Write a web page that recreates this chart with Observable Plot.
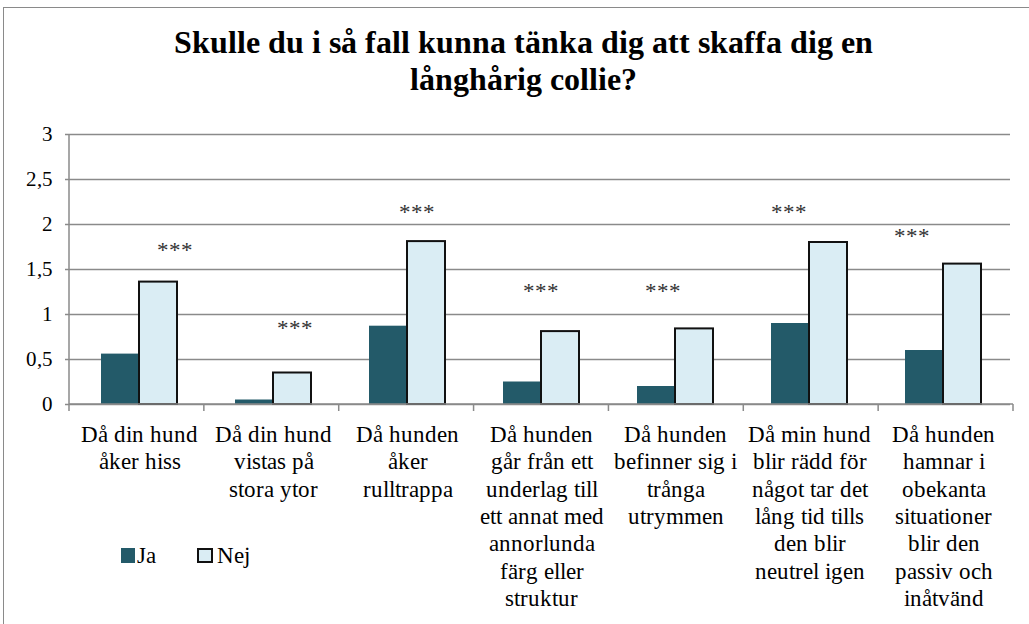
<!DOCTYPE html>
<html lang="en"><head><meta charset="utf-8">
<script src="https://cdn.jsdelivr.net/npm/d3@7"></script>
<script src="https://cdn.jsdelivr.net/npm/@observablehq/plot@0.6"></script>
<style>
@font-face { font-family: "TNRLocal"; src: local("Liberation Serif"), local("LiberationSerif"), local("Liberation Serif Regular"), local("LiberationSerif-Regular"); font-weight: 400; }
@font-face { font-family: "TNRLocal"; src: local("Liberation Serif Bold"), local("LiberationSerif-Bold"); font-weight: 700; }
</style>
</head>
<body style="margin:0;font-family:TNRLocal, 'Liberation Serif', serif">
<div id="wrap" style="position:relative;width:1029px;height:624px;overflow:hidden;color:#000;font-family:TNRLocal, 'Liberation Serif', serif">
<div style="position:absolute;left:3px;top:7px;width:1100px;height:700px;border:1.5px solid #8a8a8a;"></div>
<div id="title" style="position:absolute;left:10px;width:1026px;top:24px;text-align:center;font-weight:bold;font-size:32px;line-height:37px;">Skulle du i så fall kunna tänka dig att skaffa dig en<br>långhårig collie?</div>
<div id="chart" style="position:absolute;left:0;top:120px;"></div>
<div id="legend"></div>
</div>
<script>
const categories = [
  "Då din hund\nåker hiss",
  "Då din hund\nvistas på\nstora ytor",
  "Då hunden\nåker\nrulltrappa",
  "Då hunden\ngår från ett\nunderlag till\nett annat med\nannorlunda\nfärg eller\nstruktur",
  "Då hunden\nbefinner sig i\ntrånga\nutrymmen",
  "Då min hund\nblir rädd för\nnågot tar det\nlång tid tills\nden blir\nneutrel igen",
  "Då hunden\nhamnar i\nobekanta\nsituationer\nblir den\npassiv och\ninåtvänd"
];
const seriesNames = ["Ja", "Nej"];
const ja  = [0.56, 0.05, 0.87, 0.25, 0.20, 0.90, 0.60];
const nej = [1.36, 0.35, 1.81, 0.81, 0.84, 1.80, 1.56];
const starLabel = "***";
const starLevel = [1.71, 0.84, 2.13, 1.25, 1.25, 2.13, 1.87];
const yTicks = [0, 0.5, 1, 1.5, 2, 2.5, 3];

// styling (pixel nudges of the star annotations, as placed in the original)
const starDx = [16, 2, -10, -20, -32, -40, -51];
const colJa = "#235a69", colNej = "#daedf4", gridCol = "#8a8a8a";
const FONT = "TNRLocal, 'Liberation Serif', serif";

const rows = categories.flatMap((c, i) => [
  {category: c, series: "Ja", value: ja[i]},
  {category: c, series: "Nej", value: nej[i]}
]);

const starMarks = categories.map((c, i) =>
  Plot.text([{category: c, level: starLevel[i]}], {
    fx: "category", x: () => "Nej", y: "level", text: () => starLabel,
    dx: starDx[i], fontSize: 23, fill: "#333", lineAnchor: "middle", fontFamily: FONT
  })
);

const plot = Plot.plot({
  width: 1029, height: 504,
  marginLeft: 69, marginRight: 16, marginTop: 14, marginBottom: 220,
  style: {fontFamily: FONT, background: "transparent", overflow: "visible"},
  fx: {domain: categories, padding: 0, axis: null},
  x: {domain: seriesNames, paddingInner: 0, paddingOuter: 0.753, axis: null},
  y: {domain: [0, 3], axis: null},
  marks: [
    Plot.gridY({ticks: yTicks, stroke: gridCol, strokeOpacity: 1, strokeWidth: 1.5}),
    Plot.barY(rows.filter(d => d.series === "Ja"), {fx: "category", x: "series", y: "value", fill: colJa}),
    Plot.barY(rows.filter(d => d.series === "Nej"), {fx: "category", x: "series", y: "value", fill: colNej, stroke: "#111", strokeWidth: 2}),
    ...starMarks,
    Plot.axisY({ticks: yTicks, tickFormat: d => String(d).replace(".", ","), tickSize: 7, tickPadding: 13,
      fontSize: 21, stroke: gridCol, strokeWidth: 1.5, strokeOpacity: 1, fill: "#000", label: null, fontFamily: FONT}),
    Plot.axisFx({anchor: "bottom", tickSize: 0, tickPadding: 18, fontSize: 23, lineHeight: 1.19, fill: "#000", label: null, fontFamily: FONT})
  ]
});

// axis line on the left and category boundary ticks on the base line
const fxs = plot.scale("fx"), ys = plot.scale("y");
const yLin = d3.scaleLinear(ys.domain, ys.range);
const band = d3.scaleBand(fxs.domain, fxs.range).paddingInner(0).paddingOuter(0);
const svg = d3.select(plot);
const g = svg.append("g").attr("stroke", gridCol).attr("stroke-width", 1.5);
const x0 = band.range()[0];
g.append("line").attr("x1", x0).attr("x2", x0).attr("y1", yLin(3)).attr("y2", yLin(0));
const edges = fxs.domain.map(c => band(c)).concat([band(fxs.domain[fxs.domain.length - 1]) + band.bandwidth()]);
edges.forEach(e => g.append("line").attr("x1", e).attr("x2", e).attr("y1", yLin(0)).attr("y2", yLin(0) + 7));
g.append("line").attr("x1", band.range()[0]).attr("x2", band.range()[1]).attr("y1", yLin(0)).attr("y2", yLin(0));

document.getElementById("chart").appendChild(plot);

const lg = document.getElementById("legend");
lg.innerHTML =
  `<div style="position:absolute;left:121px;top:548px;width:14px;height:15px;background:${colJa}"></div>` +
  `<div style="position:absolute;left:137px;top:544px;font-size:23px;line-height:23px">${seriesNames[0]}</div>` +
  `<div style="position:absolute;box-sizing:border-box;left:197px;top:548px;width:16px;height:15px;background:${colNej};border:2px solid #111"></div>` +
  `<div style="position:absolute;left:217px;top:544px;font-size:23px;line-height:23px">${seriesNames[1]}</div>`;
</script>
</body></html>
